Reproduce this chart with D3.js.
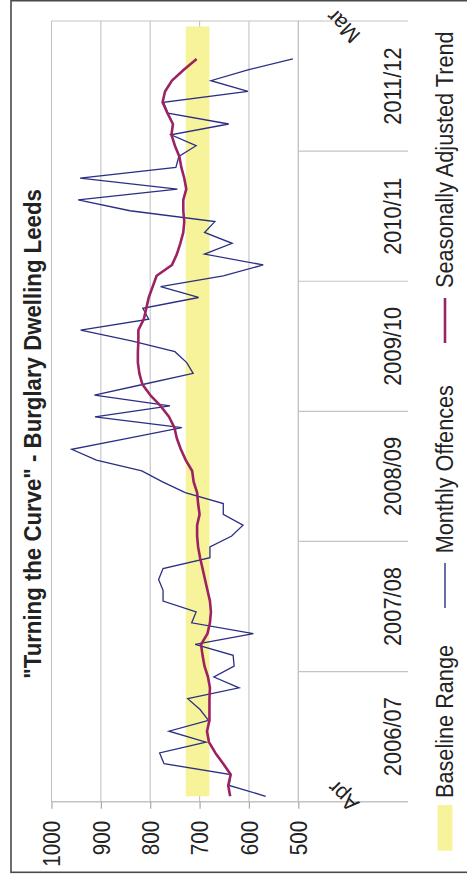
<!DOCTYPE html>
<html>
<head>
<meta charset="utf-8">
<script src="https://cdn.jsdelivr.net/npm/d3@7/dist/d3.min.js"></script>
<style>
  html, body { margin: 0; padding: 0; background: #fff; }
  svg { display: block; }
  text { font-family: "Liberation Sans", Arial, sans-serif; fill: #222; }
</style>
</head>
<body>
<script>
// Burglary Dwelling Leeds, monthly offences Apr 2006 – Dec 2011
const monthNames = ["Apr","May","Jun","Jul","Aug","Sep","Oct","Nov","Dec","Jan","Feb","Mar"];
const years = ["2006/07","2007/08","2008/09","2009/10","2010/11","2011/12"];
const months = years.flatMap(yr => monthNames.map(m => m + " " + yr));

const monthlyOffences = [
  566,640,637,772,781,687,762,682,699,724,620,671,
  630,632,709,591,716,707,774,774,783,774,679,679,
  635,612,652,652,729,775,817,909,959,846,736,912,
  760,913,813,713,726,750,838,941,803,815,702,779,
  652,571,690,634,690,669,841,946,745,942,748,742,
  707,758,641,764,773,602,677,602,511
];
const seasonalTrend = [
  638,642,637,652,668,681,685,680,680,680,679,683,
  690,694,697,684,679,677,679,684,689,694,699,703,
  705,705,700,703,705,712,715,728,738,746,751,762,
  779,800,816,822,825,825,824,824,813,808,803,795,
  787,756,746,739,733,731,733,733,727,731,737,741,
  750,757,754,765,775,770,756,732,706
];
const baselineRange = [680, 728];
const valueTicks = [500, 600, 700, 800, 900, 1000];
const endLabels = ["Apr", "Mar"];
const legendLabels = ["Baseline Range", "Monthly Offences", "Seasonally Adjusted Trend"];
const titleText = "\"Turning the Curve\" - Burglary Dwelling Leeds";

const COL_LINE = "#2b2f84", COL_TREND = "#9b2361", COL_BAND = "#f7f39a", COL_GRID = "#c3c3c3";

// chart is laid out landscape (876 x 467) and turned a quarter anticlockwise
const W = 876, H = 467;
const svg = d3.select("body").append("svg").attr("width", H).attr("height", W);
svg.append("rect").attr("width", H).attr("height", W).attr("fill", "#fff");
const g = svg.append("g").attr("transform", `translate(0,${W}) rotate(-90)`);

const plotL = 74.3, plotR = 855, plotT = 51.5, plotB = 298.3, catB = 408;

const x = d3.scaleBand().domain(months).range([plotL, plotR]);
const xc = i => x(months[i]) + x.bandwidth() / 2;
const xYear = d3.scaleBand().domain(years).range([plotL, plotR]);
const y = d3.scaleLinear().domain([500, 1000]).range([plotB, plotT]);

// outer frame
g.append("rect").attr("x", 3.7).attr("y", 11).attr("width", 871.6).attr("height", 480)
  .attr("fill", "none").attr("stroke", "#4a4a4a").attr("stroke-width", 1.6);

// value gridlines
g.append("g").selectAll("line").data(valueTicks).join("line")
  .attr("x1", plotL).attr("x2", plotR)
  .attr("y1", d => y(d)).attr("y2", d => y(d))
  .attr("stroke", COL_GRID).attr("stroke-width", d => d === 500 ? 1.4 : 1.1);

// year separators on the category axis
const seps = years.map(yr => xYear(yr)).concat([plotR]);
g.append("g").selectAll("line").data(seps).join("line")
  .attr("x1", d => d).attr("x2", d => d)
  .attr("y1", (d, i) => (i === 0 || i === seps.length - 1) ? plotT : plotB)
  .attr("y2", catB)
  .attr("stroke", COL_GRID).attr("stroke-width", (d, i) => i === 0 ? 1.6 : 1.2);

// baseline range band
g.append("rect")
  .attr("x", xc(0)).attr("width", xc(months.length - 1) - xc(0))
  .attr("y", y(baselineRange[1])).attr("height", y(baselineRange[0]) - y(baselineRange[1]))
  .attr("fill", COL_BAND);

// monthly offences
g.append("path").datum(monthlyOffences)
  .attr("d", d3.line().x((d, i) => xc(i)).y(d => y(d)))
  .attr("fill", "none").attr("stroke", COL_LINE).attr("stroke-width", 1.3)
  .attr("stroke-linejoin", "miter");

// seasonally adjusted trend
g.append("path").datum(seasonalTrend)
  .attr("d", d3.line().x((d, i) => xc(i)).y(d => y(d)))
  .attr("fill", "none").attr("stroke", COL_TREND).attr("stroke-width", 2.6)
  .attr("stroke-linejoin", "round");

// value axis
const yAxis = g.append("g").attr("transform", `translate(${plotL},0)`)
  .call(d3.axisLeft(y).tickValues(valueTicks).tickFormat(d3.format("d")).tickSize(7).tickPadding(12));
yAxis.select(".domain").remove();
yAxis.selectAll(".tick line").attr("stroke", "#a8a8a8").attr("stroke-width", 1.2);
yAxis.selectAll(".tick text")
  .attr("x", 0).attr("dy", "0.35em")
  .attr("transform", "translate(-19,0) scale(0.88,1)")
  .style("font-size", "23.5px").attr("fill", "#222")
  .style("font-family", "'Liberation Sans', Arial, sans-serif");

// fiscal-year labels
const xAxis = g.append("g").attr("transform", `translate(0,${plotB})`)
  .call(d3.axisBottom(xYear).tickSize(0).tickPadding(0));
xAxis.select(".domain").remove();
xAxis.selectAll(".tick text")
  .attr("y", 0).attr("dy", "0.36em")
  .attr("transform", "translate(0,93.7) scale(0.9,1)")
  .style("font-size", "24.3px").attr("fill", "#222")
  .style("font-family", "'Liberation Sans', Arial, sans-serif");

// first and last month labels
g.append("g").selectAll("text").data(endLabels).join("text")
  .attr("transform", (d, i) => `translate(${xc(i === 0 ? 0 : months.length - 1)},343) rotate(-45)`)
  .attr("text-anchor", "middle").attr("dy", "0.35em")
  .style("font-size", "21.5px").text(d => d);

// title
g.append("text")
  .attr("transform", "translate(442,40.5) scale(0.93,1)")
  .attr("text-anchor", "middle")
  .style("font-size", "23.9px").style("font-weight", "bold")
  .text(titleText);

// legend
const ly = 445;
const legend = g.append("g");
legend.append("rect").attr("x", 25.3).attr("y", ly - 7.4).attr("width", 45.7).attr("height", 14.8)
  .attr("fill", COL_BAND);
legend.append("line").attr("x1", 268).attr("x2", 313).attr("y1", ly).attr("y2", ly)
  .attr("stroke", COL_LINE).attr("stroke-width", 1.4);
legend.append("line").attr("x1", 533).attr("x2", 578).attr("y1", ly).attr("y2", ly)
  .attr("stroke", COL_TREND).attr("stroke-width", 2.6);
const legX = [78, 322.7, 588];
legend.selectAll("text").data(legendLabels).join("text")
  .attr("transform", (d, i) => `translate(${legX[i]},${ly}) scale(0.9,1)`)
  .attr("dy", "0.35em")
  .style("font-size", "24.1px").text(d => d);
</script>
</body>
</html>
